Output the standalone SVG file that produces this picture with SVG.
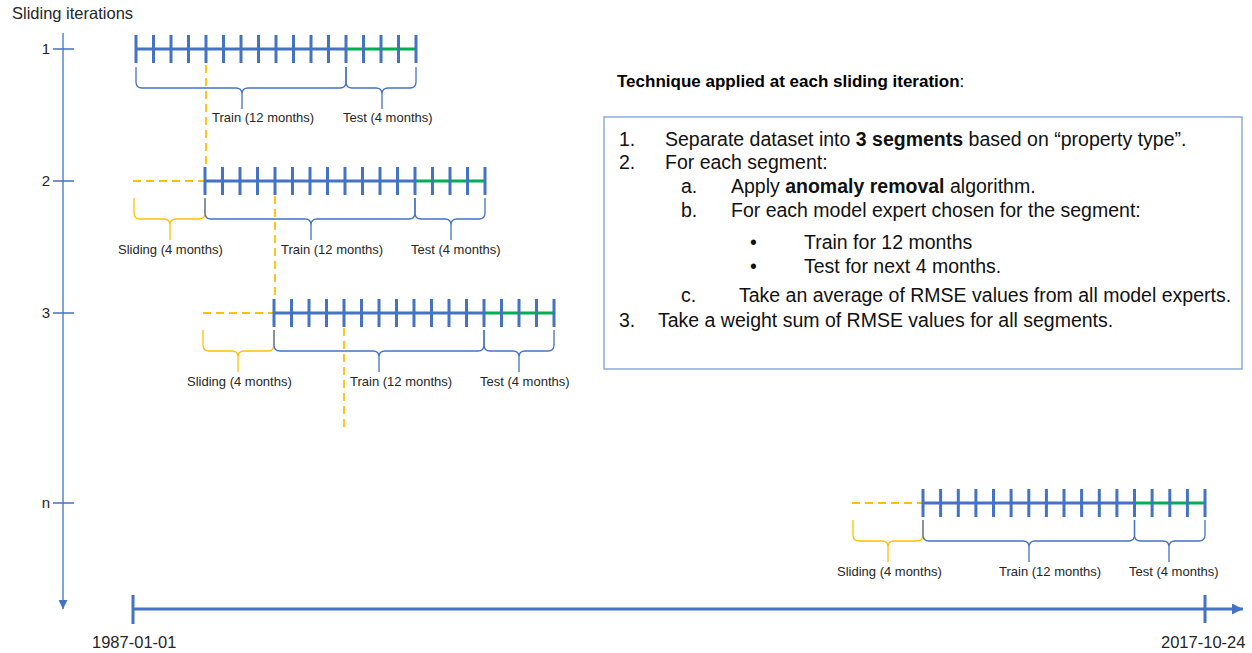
<svg xmlns="http://www.w3.org/2000/svg" width="1252" height="653" viewBox="0 0 1252 653">
<style>
text{font-family:"Liberation Sans",Arial,sans-serif;fill:#262626}
.lbl{font-size:13px}
.num{font-size:15px}
.body{font-size:19.5px;fill:#111}
.tl{fill:none;stroke:#4472C4;stroke-width:3}
.tk{fill:none;stroke:#4472C4;stroke-width:3}
.gr{fill:none;stroke:#00B050;stroke-width:3}
.bb{fill:none;stroke:#4472C4;stroke-width:1.3}
.ob{fill:none;stroke:#FFC000;stroke-width:1.3}
.od{fill:none;stroke:#FFC000;stroke-width:1.8;stroke-dasharray:8 5}
.ax{fill:none;stroke:#4472C4;stroke-width:1.3}
</style>
<defs>
<marker id="ahs" viewBox="0 0 10 10" refX="10" refY="5" markerWidth="10" markerHeight="9" markerUnits="userSpaceOnUse" orient="auto"><path d="M0,0L10,5L0,10Z" fill="#4472C4"/></marker>
<marker id="ahb" viewBox="0 0 10 10" refX="10" refY="5" markerWidth="12" markerHeight="11" markerUnits="userSpaceOnUse" orient="auto"><path d="M0,0L10,5L0,10Z" fill="#4472C4"/></marker>
</defs>

<g id="axis-iterations">
<text x="12" y="19" style="font-size:16.5px">Sliding iterations</text>
<line class="ax" x1="63" y1="33" x2="63" y2="609" marker-end="url(#ahs)"/>
<path class="ax" d="M53,49H74M53,181H74M53,313H74M53,503H74"/>
<text class="num" x="50" y="54" text-anchor="end">1</text>
<text class="num" x="50" y="186" text-anchor="end">2</text>
<text class="num" x="50" y="318" text-anchor="end">3</text>
<text class="num" x="50" y="508" text-anchor="end">n</text>
</g>

<g id="axis-time">
<line x1="133" y1="609" x2="1243" y2="609" stroke="#4472C4" stroke-width="3" marker-end="url(#ahb)"/>
<path class="tk" d="M133,595V624M1205,595V623"/>
<text x="92" y="648" style="font-size:16.5px">1987-01-01</text>
<text x="1161" y="648" style="font-size:16.5px">2017-10-24</text>
</g>

<g id="connectors">
<path class="od" d="M206,65V167"/>
<path class="od" d="M133,181H205"/>
<path class="od" d="M275,196V299"/>
<path class="od" d="M203,313H274"/>
<path class="od" d="M344,328V428"/>
<path class="od" d="M852,503H923"/>
</g>

<g id="iteration-1">
<path class="tl" d="M136,49H346"/>
<path class="gr" d="M346,49H416"/>
<path class="tk" d="M136,35V63M153.5,35V63M171,35V63M188.5,35V63M206,35V63M223.5,35V63M241,35V63M258.5,35V63M276,35V63M293.5,35V63M311,35V63M328.5,35V63M346,35V63M363.5,35V63M381,35V63M398.5,35V63M416,35V63"/>
<path class="bb" d="M136,67V82Q136,88 142,88H236Q242,88 242,94V109V94Q242,88 248,88H340Q346,88 346,82V67"/>
<path class="bb" d="M346,67V82Q346,88 352,88H376Q382,88 382,94V109V94Q382,88 388,88H410Q416,88 416,82V67"/>
<text class="lbl" x="212" y="122">Train (12 months)</text>
<text class="lbl" x="343" y="122">Test (4 months)</text>
</g>

<g id="iteration-2">
<path class="tl" d="M205,181H415"/>
<path class="gr" d="M415,181H485"/>
<path class="tk" d="M205,167V195M222.5,167V195M240,167V195M257.5,167V195M275,167V195M292.5,167V195M310,167V195M327.5,167V195M345,167V195M362.5,167V195M380,167V195M397.5,167V195M415,167V195M432.5,167V195M450,167V195M467.5,167V195M485,167V195"/>
<path class="ob" d="M134,198V213Q134,219 140,219H164Q170,219 170,225V240V225Q170,219 176,219H199Q205,219 205,213V198"/>
<path class="bb" d="M205,198V213Q205,219 211,219H305Q311,219 311,225V240V225Q311,219 317,219H409Q415,219 415,213V198"/>
<path class="bb" d="M415,198V213Q415,219 421,219H445Q451,219 451,225V240V225Q451,219 457,219H479Q485,219 485,213V198"/>
<text class="lbl" x="118" y="254">Sliding (4 months)</text>
<text class="lbl" x="281" y="254">Train (12 months)</text>
<text class="lbl" x="411" y="254">Test (4 months)</text>
</g>

<g id="iteration-3">
<path class="tl" d="M274,313H484"/>
<path class="gr" d="M484,313H554"/>
<path class="tk" d="M274,299V327M291.5,299V327M309,299V327M326.5,299V327M344,299V327M361.5,299V327M379,299V327M396.5,299V327M414,299V327M431.5,299V327M449,299V327M466.5,299V327M484,299V327M501.5,299V327M519,299V327M536.5,299V327M554,299V327"/>
<path class="ob" d="M203,330V345Q203,351 209,351H232Q238,351 238,357V372V357Q238,351 244,351H268Q274,351 274,345V330"/>
<path class="bb" d="M274,330V345Q274,351 280,351H373Q379,351 379,357V372V357Q379,351 385,351H478Q484,351 484,345V330"/>
<path class="bb" d="M484,330V345Q484,351 490,351H513Q519,351 519,357V372V357Q519,351 525,351H548Q554,351 554,345V330"/>
<text class="lbl" x="187" y="386">Sliding (4 months)</text>
<text class="lbl" x="350" y="386">Train (12 months)</text>
<text class="lbl" x="480" y="386">Test (4 months)</text>
</g>

<g id="iteration-n">
<path class="tl" d="M923,503H1134.5"/>
<path class="gr" d="M1134.5,503H1205"/>
<path class="tk" d="M923,489V517M940.6,489V517M958.3,489V517M975.9,489V517M993.5,489V517M1011.1,489V517M1028.8,489V517M1046.4,489V517M1064,489V517M1081.6,489V517M1099.3,489V517M1116.9,489V517M1134.5,489V517M1152.1,489V517M1169.8,489V517M1187.4,489V517M1205,489V517"/>
<path class="ob" d="M853,520V535Q853,541 859,541H882Q888,541 888,547V562V547Q888,541 894,541H917Q923,541 923,535V520"/>
<path class="bb" d="M923,520V535Q923,541 929,541H1023Q1029,541 1029,547V562V547Q1029,541 1035,541H1128.5Q1134.5,541 1134.5,535V520"/>
<path class="bb" d="M1134.5,520V535Q1134.5,541 1140.5,541H1163Q1169,541 1169,547V562V547Q1169,541 1175,541H1199Q1205,541 1205,535V520"/>
<text class="lbl" x="837" y="576">Sliding (4 months)</text>
<text class="lbl" x="999" y="576">Train (12 months)</text>
<text class="lbl" x="1129" y="576">Test (4 months)</text>
</g>

<g id="technique">
<text x="617" y="87" style="font-size:17px;font-weight:bold;fill:#000">Technique applied at each sliding iteration<tspan font-weight="normal">:</tspan></text>
<rect x="604" y="117" width="638" height="252" fill="none" stroke="#8EAADB" stroke-width="1.5"/>
<text class="body" x="619" y="146">1.</text>
<text class="body" x="665" y="146">Separate dataset into <tspan font-weight="bold">3 segments</tspan> based on “property type”.</text>
<text class="body" x="619" y="169">2.</text>
<text class="body" x="665" y="169">For each segment:</text>
<text class="body" x="681" y="193">a.</text>
<text class="body" x="731" y="193">Apply <tspan font-weight="bold">anomaly removal</tspan> algorithm.</text>
<text class="body" x="681" y="217">b.</text>
<text class="body" x="731" y="217">For each model expert chosen for the segment:</text>
<text class="body" x="750" y="249">•</text>
<text class="body" x="804" y="249">Train for 12 months</text>
<text class="body" x="750" y="273">•</text>
<text class="body" x="804" y="273">Test for next 4 months.</text>
<text class="body" x="681" y="302">c.</text>
<text class="body" x="739" y="302">Take an average of RMSE values from all model experts.</text>
<text class="body" x="619" y="327">3.</text>
<text class="body" x="658" y="327">Take a weight sum of RMSE values for all segments.</text>
</g>
</svg>
